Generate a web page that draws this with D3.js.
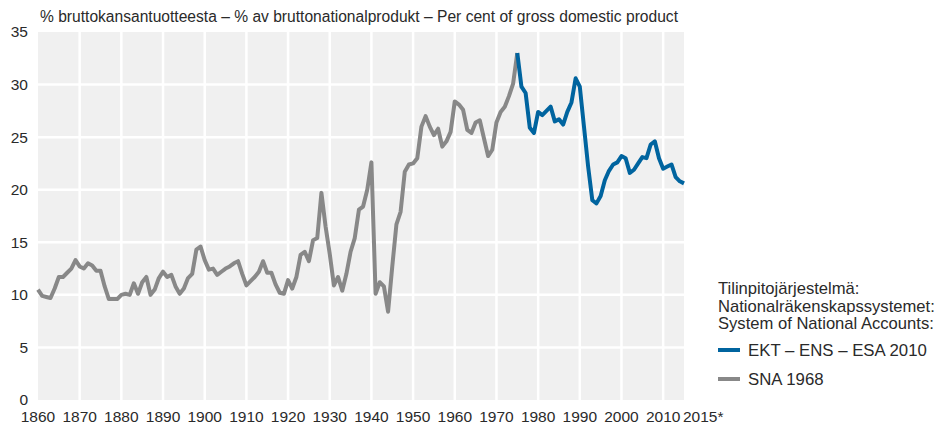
<!DOCTYPE html>
<html>
<head>
<meta charset="utf-8">
<script src="https://cdn.jsdelivr.net/npm/d3@7"></script>
<style>
  body { margin: 0; background: #fff; }
  svg text { font-family: "Liberation Sans", Arial, sans-serif; fill: #2a2a2a; }
</style>
</head>
<body>
<svg width="940" height="426"></svg>
<script>
const width = 940;
const height = 426;

// SNA 1968 series, 1860-1975
const snaYears = d3.range(1860, 1976);
const snaValues = [
  10.5, 9.9, 9.8, 9.7, 10.6, 11.7, 11.7, 12.1, 12.5, 13.3,
  12.7, 12.5, 13.0, 12.8, 12.3, 12.3, 10.8, 9.6, 9.6, 9.6,
  10.0, 10.1, 10.0, 11.1, 10.1, 11.2, 11.7, 10.0, 10.5, 11.6,
  12.2, 11.7, 11.9, 10.8, 10.1, 10.6, 11.6, 12.0, 14.3, 14.6,
  13.3, 12.4, 12.5, 11.9, 12.2, 12.5, 12.7, 13.0, 13.2, 12.0,
  10.9, 11.3, 11.7, 12.2, 13.2, 12.1, 12.1, 11.0, 10.2, 10.1,
  11.4, 10.6, 11.7, 13.8, 14.1, 13.2, 15.2, 15.4, 19.7, 16.5,
  13.9, 10.9, 11.7, 10.4, 12.0, 14.1, 15.4, 18.1, 18.4, 20.0,
  22.6, 10.1, 11.2, 10.8, 8.4, 12.7, 16.7, 17.9, 21.7, 22.4,
  22.5, 23.0, 26.0, 27.0, 26.0, 25.2, 25.8, 24.1, 24.6, 25.5,
  28.4, 28.1, 27.6, 25.7, 25.4, 26.4, 26.6, 24.9, 23.2, 23.8,
  26.4, 27.4, 27.9, 28.9, 30.1, 33.0
];

// EKT - ENS - ESA 2010 series, 1975-2015
const esaYears = d3.range(1975, 2016);
const esaValues = [
  33.0, 29.8, 29.2, 25.9, 25.4, 27.4, 27.1, 27.5, 27.9, 26.5,
  26.7, 26.2, 27.4, 28.3, 30.6, 29.8, 26.0, 22.2, 19.0, 18.7,
  19.4, 20.9, 21.8, 22.4, 22.6, 23.2, 23.0, 21.6, 21.9, 22.5,
  23.1, 23.0, 24.3, 24.6, 23.0, 22.0, 22.2, 22.4, 21.2, 20.8,
  20.6
];

const xTicks = [1860, 1870, 1880, 1890, 1900, 1910, 1920, 1930, 1940, 1950, 1960, 1970, 1980, 1990, 2000, 2010];
const yTicks = [0, 5, 10, 15, 20, 25, 30, 35];

const title = "% bruttokansantuotteesta – % av bruttonationalprodukt – Per cent of gross domestic product";
const legendTitle = ["Tilinpitojärjestelmä:", "Nationalräkenskapssystemet:", "System of National Accounts:"];
const seriesNames = ["EKT – ENS – ESA 2010", "SNA 1968"];
const colors = ["#00649f", "#888888"];

const x = d3.scaleLinear().domain([1860, 2015]).range([38, 684]);
const y = d3.scaleLinear().domain([0, 35]).range([400, 32]);

const svg = d3.select("svg");

// grey plot area with white grid
svg.append("rect")
  .attr("x", x(1860)).attr("y", y(35))
  .attr("width", x(2015) - x(1860)).attr("height", y(0) - y(35))
  .attr("fill", "#f0f0f0");

svg.append("g")
  .selectAll("line")
  .data(xTicks.slice(1))
  .join("line")
  .attr("x1", d => x(d)).attr("x2", d => x(d))
  .attr("y1", y(35)).attr("y2", y(0))
  .attr("stroke", "#fff").attr("stroke-width", 2.5);

svg.append("g")
  .selectAll("line")
  .data(yTicks.slice(1, -1))
  .join("line")
  .attr("x1", x(1860)).attr("x2", x(2015))
  .attr("y1", d => y(d)).attr("y2", d => y(d))
  .attr("stroke", "#fff").attr("stroke-width", 2.5);

// axis labels
svg.append("g")
  .selectAll("text")
  .data(yTicks)
  .join("text")
  .attr("x", 28)
  .attr("y", d => y(d))
  .attr("dy", "0.35em")
  .attr("text-anchor", "end")
  .attr("font-size", 15.5)
  .text(d => d);

svg.append("g")
  .selectAll("text")
  .data(xTicks)
  .join("text")
  .attr("x", d => x(d))
  .attr("y", 422)
  .attr("text-anchor", "middle")
  .attr("font-size", 15.5)
  .text(d => d);

svg.append("text")
  .attr("x", 683).attr("y", 422)
  .attr("font-size", 15.5)
  .text("2015*");

svg.append("text")
  .attr("x", 40).attr("y", 22)
  .attr("font-size", 15.6)
  .text(title);

// lines
const line = d3.line()
  .x(d => x(d[0]))
  .y(d => y(d[1]))
  .curve(d3.curveLinear);

svg.append("path")
  .datum(d3.zip(snaYears, snaValues))
  .attr("fill", "none")
  .attr("stroke", colors[1])
  .attr("stroke-width", 4)
  .attr("stroke-linejoin", "round")
  .attr("d", line);

svg.append("path")
  .datum(d3.zip(esaYears, esaValues))
  .attr("fill", "none")
  .attr("stroke", colors[0])
  .attr("stroke-width", 4)
  .attr("stroke-linejoin", "round")
  .attr("d", line);

// legend
const legend = svg.append("g").attr("transform", "translate(718,0)");

legend.selectAll("text.lt")
  .data(legendTitle)
  .join("text")
  .attr("class", "lt")
  .attr("x", 0)
  .attr("y", (d, i) => 294 + i * 17.5)
  .attr("font-size", 16.6)
  .text(d => d);

const items = legend.selectAll("g.item")
  .data(seriesNames)
  .join("g")
  .attr("class", "item")
  .attr("transform", (d, i) => `translate(0,${350 + i * 29})`);

items.append("line")
  .attr("x1", 0).attr("x2", 22)
  .attr("stroke", (d, i) => colors[i])
  .attr("stroke-width", 4);

items.append("text")
  .attr("x", 30)
  .attr("dy", "0.35em")
  .attr("font-size", 16.8)
  .text(d => d);
</script>
</body>
</html>
